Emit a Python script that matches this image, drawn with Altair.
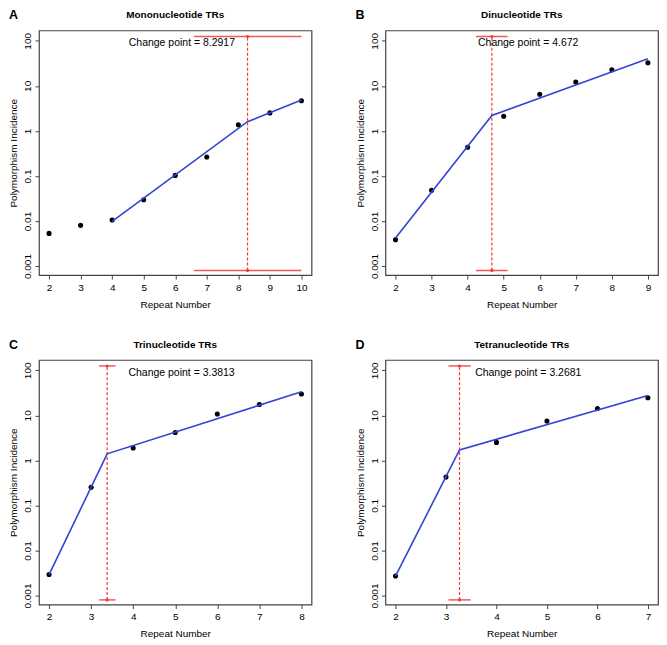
import altair as alt
import pandas as pd

# ---- data ----
A_x = [2, 3, 4, 5, 6, 7, 8, 9, 10]
A_y = [0.0053, 0.0080, 0.0105, 0.0297, 0.103, 0.264, 1.37, 2.51, 4.67]
A_fit_x = [4, 8.2917, 10]
A_fit_y = [0.0098, 1.6, 4.83]
A_cp = 8.2917
A_ci = [6.59, 10.0]
A_label_x = 6.21

B_x = [2, 3, 4, 5, 6, 7, 8, 9]
B_y = [0.00385, 0.0479, 0.433, 2.12, 6.5, 12.2, 22.7, 32.5]
B_fit_x = [2, 4.672, 9]
B_fit_y = [0.0042, 2.2, 40.2]
B_cp = 4.672
B_ci = [4.23, 5.11]
B_label_x = 5.68

C_x = [2, 3, 4, 5, 6, 7, 8]
C_y = [0.00294, 0.253, 1.89, 4.15, 10.7, 17.4, 29.7]
C_fit_x = [2, 3.3813, 8]
C_fit_y = [0.0029, 1.4, 33.4]
C_cp = 3.3813
C_ci = [3.19, 3.58]
C_label_x = 5.15

D_x = [2, 3, 4, 5, 6, 7]
D_y = [0.00271, 0.426, 2.51, 7.45, 14.2, 24.7]
D_fit_x = [2, 3.2681, 7]
D_fit_y = [0.0027, 1.71, 27.7]
D_cp = 3.2681
D_ci = [3.05, 3.49]
D_label_x = 4.63

CI_TOP = 125
CI_BOTTOM = 0.0008
LABEL_Y = 88
Y_TICKS = [0.001, 0.01, 0.1, 1, 10, 100]
Y_DOMAIN = [0.00063, 170]

FONT = "Liberation Sans"
RED = "#ee3b3b"
BLUE = "#3344d4"
W, H = 273, 245


def panel(letter, title, xs, ys, fx, fy, cp, ci, label_x, cp_text):
    x0, x1 = min(xs), max(xs)
    pad = (x1 - x0) * 0.04
    xscale = alt.Scale(domain=[x0 - pad, x1 + pad], nice=False, zero=False)
    yscale = alt.Scale(type="log", domain=Y_DOMAIN, nice=False)
    xaxis = alt.Axis(values=xs, format="d", title="Repeat Number", grid=False,
                     domain=False, tickSize=4, tickColor="#444",
                     labelFont=FONT, labelFontSize=10, labelColor="black",
                     labelPadding=3, titleFont=FONT, titleFontSize=10,
                     titleFontWeight="normal", titleColor="black", titlePadding=7)
    yaxis = alt.Axis(values=Y_TICKS, format="~g", title="Polymorphism Incidence",
                     grid=False, domain=False, tickSize=4, tickColor="#444",
                     labelAngle=270, labelFont=FONT, labelFontSize=10,
                     labelColor="black", labelPadding=2, titleFont=FONT,
                     titleFontSize=10, titleFontWeight="normal",
                     titleColor="black", titlePadding=4)

    def X(f):
        return alt.X(f, type="quantitative", scale=xscale, axis=xaxis)

    def Y(f):
        return alt.Y(f, type="quantitative", scale=yscale, axis=yaxis)

    pts = pd.DataFrame({"x": xs, "y": ys})
    fit = pd.DataFrame({"x": fx, "y": fy})
    vline = pd.DataFrame({"x": [cp], "y": [CI_BOTTOM], "y2": [CI_TOP]})
    hline = pd.DataFrame({"x": [ci[0], ci[0]], "x2": [ci[1], ci[1]],
                          "y": [CI_TOP, CI_BOTTOM]})
    cdots = pd.DataFrame({"x": [cp, cp], "y": [CI_TOP, CI_BOTTOM]})
    lab = pd.DataFrame({"x": [label_x], "y": [LABEL_Y], "t": [cp_text]})

    l_pts = alt.Chart(pts).mark_circle(size=26, color="black", opacity=1).encode(
        x=X("x"), y=Y("y"))
    l_fit = alt.Chart(fit).mark_line(color=BLUE, strokeWidth=1.6).encode(
        x=X("x"), y=Y("y"))
    l_v = alt.Chart(vline).mark_rule(color=RED, strokeDash=[3, 2],
                                     strokeWidth=1.2).encode(
        x=X("x"), y=Y("y"), y2="y2")
    l_h = alt.Chart(hline).mark_rule(color=RED, strokeWidth=1.5, opacity=0.85).encode(
        x=X("x"), x2="x2", y=Y("y"))
    l_d = alt.Chart(cdots).mark_circle(size=10, color=RED, opacity=1).encode(
        x=X("x"), y=Y("y"))
    l_t = alt.Chart(lab).mark_text(font=FONT, fontSize=10.5, color="black").encode(
        x=X("x"), y=Y("y"), text="t:N")
    l_letter = alt.Chart(pd.DataFrame({"t": [letter]})).mark_text(
        font=FONT, fontSize=12.5, fontWeight="bold", align="left", baseline="middle",
        color="black").encode(x=alt.value(-30), y=alt.value(-15), text="t:N")
    l_title = alt.Chart(pd.DataFrame({"t": [title]})).mark_text(
        font=FONT, fontSize=10, fontWeight="bold", align="center",
        baseline="middle", color="black").encode(
        x=alt.value(W / 2), y=alt.value(-15), text="t:N")

    return alt.layer(l_h, l_v, l_d, l_pts, l_fit, l_t, l_letter, l_title).properties(
        width=W, height=H)


pA = panel("A", "Mononucleotide TRs", A_x, A_y, A_fit_x, A_fit_y, A_cp, A_ci,
           A_label_x, "Change point = 8.2917")
pB = panel("B", "Dinucleotide TRs", B_x, B_y, B_fit_x, B_fit_y, B_cp, B_ci,
           B_label_x, "Change point = 4.672")
pC = panel("C", "Trinucleotide TRs", C_x, C_y, C_fit_x, C_fit_y, C_cp, C_ci,
           C_label_x, "Change point = 3.3813")
pD = panel("D", "Tetranucleotide TRs", D_x, D_y, D_fit_x, D_fit_y, D_cp, D_ci,
           D_label_x, "Change point = 3.2681")

chart = alt.vconcat(
    alt.hconcat(pA, pB, spacing=42),
    alt.hconcat(pC, pD, spacing=42),
    spacing=28,
).properties(padding=0, background="white").configure_view(
    stroke="#444", strokeWidth=1.2)

chart.save("out.html", embed_options={"renderer": "svg", "actions": False})
